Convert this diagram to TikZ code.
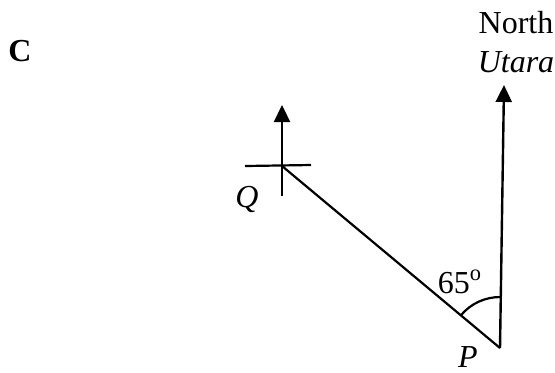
\documentclass[tikz,border=0pt]{standalone}
\usepackage{fontspec}
\setmainfont{Liberation Serif}
\usetikzlibrary{arrows.meta,positioning}

\tikzset{
  txt/.style={inner sep=0pt, font=\fontsize{16}{19}\selectfont},
  bearing/.style={line width=1.2pt, -{Triangle[width=8pt,length=8.5pt]}},
  plain/.style={line width=1.1pt}
}

\begin{document}
\begin{tikzpicture}[x=0.5pt,y=0.5pt]
	\useasboundingbox (0,0) rectangle (555,-372);
	% 1. 主要的点
	\coordinate (p) at (500,-348);
	\coordinate (q) at (282,-166);
	\coordinate (ntip) at (504,-85);
	
	% 2. Q 处的十字与北向箭头
	\coordinate (qw) at (245,-166);
	\coordinate (qe) at (311,-165);
	\coordinate (qs) at (282,-196);
	\coordinate (qn) at (282,-105);
	
	% 3. 线条
	\draw[plain] (qw) -- (qe);
	\draw[bearing] (qs) -- (qn);
	\draw[bearing] (p) -- (ntip);
	\draw[plain] (q) -- (p);
	% 角度弧
	\draw[plain] ([shift={(89:25.5pt)}]p) arc[start angle=89, end angle=140, radius=25.5pt];
	
	% 4. 文字
	\node[txt, anchor=base, font=\fontsize{16}{19}\selectfont\bfseries] (part) at (20,-61) {C};
	\node[txt, anchor=base] (north) at (516,-33) {North};
	\node[txt, below=19.5pt of north.base, anchor=base] (utara) {\textit{Utara}};
	\node[txt, left=17.5pt of q, anchor=base, yshift=-20.5pt] (qlab) {\textit{Q}};
	\node[txt, left=16pt of p, anchor=base, yshift=-9.5pt] (plab) {\textit{P}};
	\node[txt, left=20pt of p, anchor=base, yshift=27.5pt] (angle) {65\textsuperscript{o}};
\end{tikzpicture}
\end{document}
